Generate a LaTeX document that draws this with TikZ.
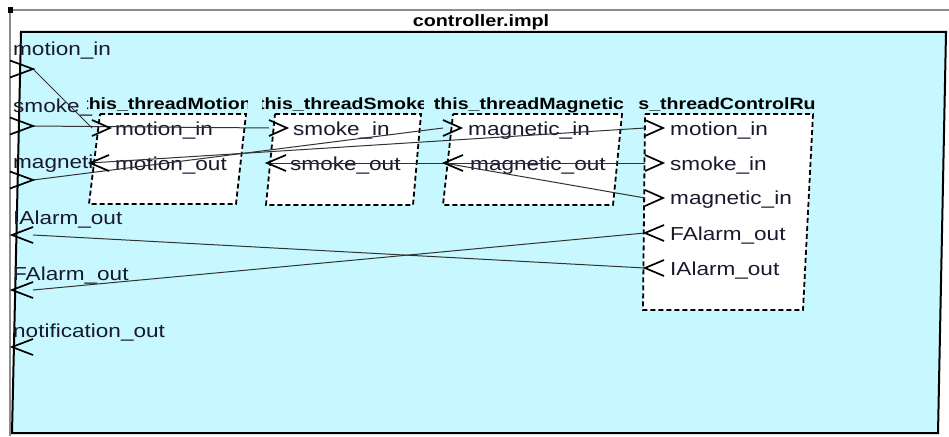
\documentclass[tikz,border=0pt]{standalone}
\usepackage{fontspec}
\setmainfont{Liberation Sans}
\newfontfamily\lf[FakeStretch=1.2]{Liberation Sans}
\usetikzlibrary{calc}
\definecolor{bgcyan}{RGB}{200,248,255}
\definecolor{txt}{RGB}{25,25,45}
\definecolor{wire}{RGB}{50,50,50}
\definecolor{frame}{RGB}{140,140,140}
\newcommand\inchev[1]{\draw[chev] ($(#1)+(0,-8)$) -- ($(#1)+(18,0)$) -- ($(#1)+(0,8)$);}
\newcommand\outchev[1]{\draw[chev] ($(#1)+(19,-8)$) -- (#1) -- ($(#1)+(19,8)$);}
\newcommand\oinchev[1]{\draw[chev] ($(#1)+(-23,-8.5)$) -- (#1) -- ($(#1)+(-23,8.5)$);}
\newcommand\ooutchev[1]{\draw[chev] ($(#1)+(0,-8)$) -- ($(#1)+(-21,0)$) -- ($(#1)+(0,8)$);}
\begin{document}
\begin{tikzpicture}[x=1pt,y=-1pt,
  lab/.style={anchor=base west,inner sep=0pt,text=txt,font=\lf\fontsize{18.8}{20}\selectfont},
  ttl/.style={anchor=base,inner sep=0pt,text=black,font=\lf\bfseries\fontsize{16.3}{18}\selectfont},
  wirel/.style={draw=wire,line width=1pt},
  chev/.style={draw=black,line width=1.7pt,line join=miter},
  inbox/.style={draw=black,fill=white,line width=1.8pt,dash pattern=on 5pt off 3pt},
]
\useasboundingbox (0,0) rectangle (949,436);
% outer frame
\draw[frame,line width=1.5pt] (10,436) -- (10,10) -- (949,10);
\fill[black] (7.5,7.5) rectangle (13,13);
% component area
\draw[black,line width=2pt,fill=bgcyan] (21,32) -- (946,32) -- (938,433) -- (12,433) -- cycle;
\node[ttl,font=\lf\bfseries\fontsize{16.5}{18}\selectfont] (title) at (481,27) {controller.impl};
% outer port labels
\node[lab] (lmi) at (13,56) {motion\_in};
\node[lab] (lsi) at (13,112) {smoke\_in};
\node[lab] (lgi) at (13,168) {magnetic\_in};
\node[lab] (lia) at (13,224) {IAlarm\_out};
\node[lab] (lfa) at (13,280) {FAlarm\_out};
\node[lab] (lno) at (13,337) {notification\_out};
% subcomponent boxes
\draw[inbox] (100,114) -- (246,114) -- (236,204) -- (89,204) -- cycle;
\draw[inbox] (275,114) -- (421,114) -- (413,205) -- (266,205) -- cycle;
\draw[inbox] (453,114) -- (622,114) -- (613,205) -- (443,205) -- cycle;
\draw[inbox] (645,114) -- (813,114) -- (803,310) -- (643,310) -- cycle;
% titles (clipped to their bands)
\begin{scope}
\fill[bgcyan] (82,92) rectangle (250,112.5);
\clip (87,90) rectangle (247,112.5);
\node[ttl] (t1) at (167,109) {this\_threadMotion};
\end{scope}
\begin{scope}
\fill[bgcyan] (256,92) rectangle (426,112.5);
\clip (262,90) rectangle (423,112.5);
\node[ttl] (t2) at (343,109) {this\_threadSmoke};
\end{scope}
\begin{scope}
\fill[bgcyan] (432,92) rectangle (626,112.5);
\clip (432,90) rectangle (626,112.5);
\node[ttl] (t3) at (529,109) {this\_threadMagnetic};
\end{scope}
\begin{scope}
\clip (632,90) rectangle (822,112.5);
\node[ttl,fill=bgcyan,inner ysep=3pt] (t4) at (727,109) {s\_threadControlRu};
\end{scope}
% inner labels
\node[lab] (l1a) at (115,135) {motion\_in};
\node[lab] (l1b) at (115,170) {motion\_out};
\node[lab] (l2a) at (293,135) {smoke\_in};
\node[lab] (l2b) at (290,170) {smoke\_out};
\node[lab] (l3a) at (468,135) {magnetic\_in};
\node[lab] (l3b) at (470,170) {magnetic\_out};
\node[lab] (l4a) at (670,135) {motion\_in};
\node[lab] (l4b) at (670,170) {smoke\_in};
\node[lab] (l4c) at (670,204) {magnetic\_in};
\node[lab] (l4d) at (670,240) {FAlarm\_out};
\node[lab] (l4e) at (670,275) {IAlarm\_out};
% port coordinates
\coordinate (om) at (33,69);
\coordinate (os) at (33,126);
\coordinate (og) at (33,180);
\coordinate (oi) at (33,235);
\coordinate (of) at (33,290);
\coordinate (on) at (33,347);
\coordinate (p1i) at (92,128);
\coordinate (p1o) at (90,163);
\coordinate (p2i) at (269,128);
\coordinate (p2o) at (267,163);
\coordinate (p3i) at (443,128);
\coordinate (p3o) at (444,163);
\coordinate (p4m) at (645,128);
\coordinate (p4s) at (645,163);
\coordinate (p4g) at (645,198);
\coordinate (p4f) at (645,233);
\coordinate (p4i) at (645,268);
% connectors
\draw[wirel] (om) -- (p1i);
\draw[wirel] (os) -- (p2i);
\draw[wirel] (og) -- (p3i);
\draw[wirel] (p1o) -- (p4m);
\draw[wirel] (p2o) -- (p4s);
\draw[wirel] (p3o) -- (p4g);
\draw[wirel] (p4f) -- (of);
\draw[wirel] (p4i) -- (oi);
% chevrons
\oinchev{om} \oinchev{os} \oinchev{og}
\ooutchev{oi} \ooutchev{of} \ooutchev{on}
\inchev{p1i} \outchev{p1o}
\inchev{p2i} \outchev{p2o}
\inchev{p3i} \outchev{p3o}
\inchev{p4m} \inchev{p4s} \inchev{p4g}
\outchev{p4f} \outchev{p4i}
\end{tikzpicture}
\end{document}
